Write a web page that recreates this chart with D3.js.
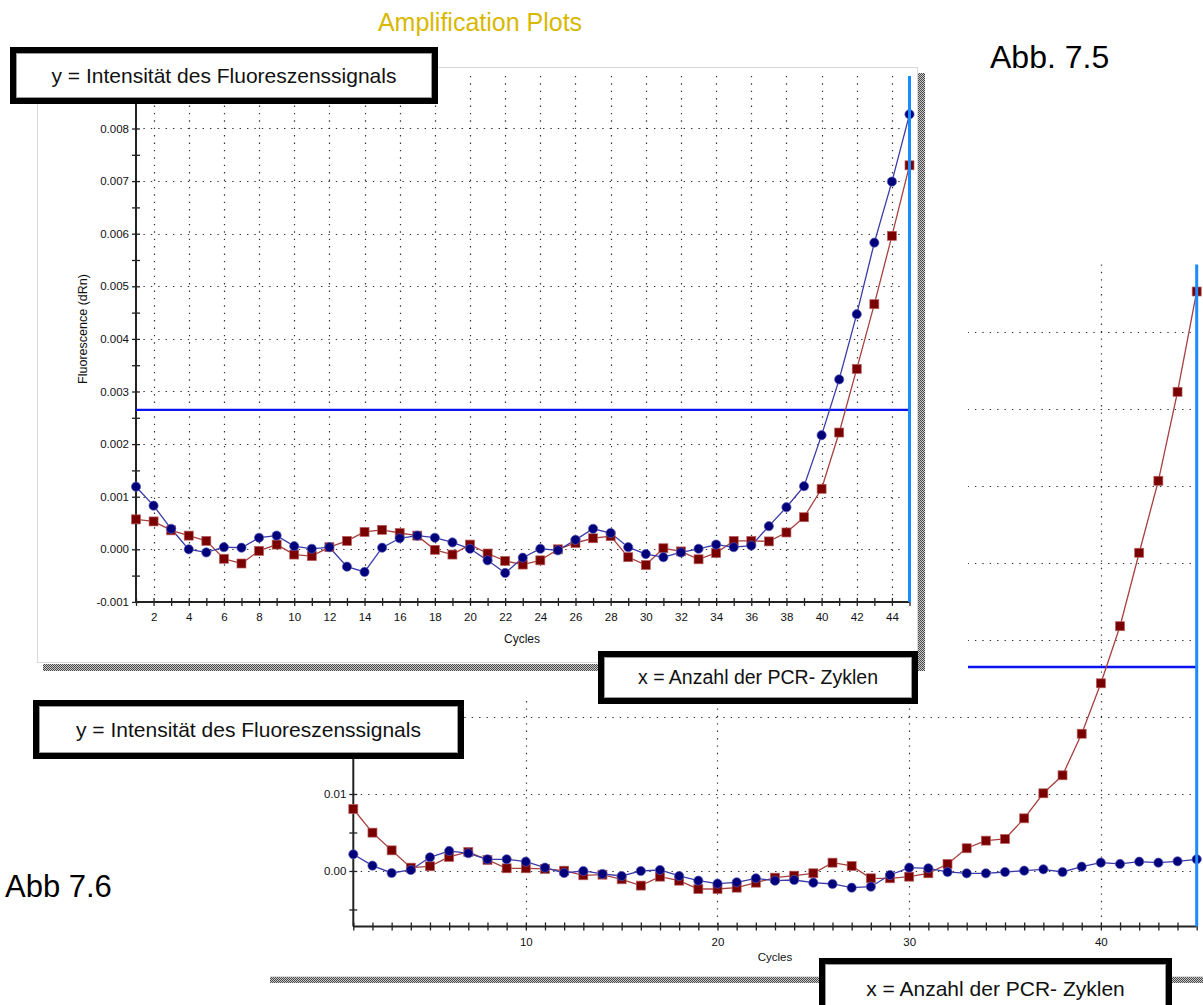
<!DOCTYPE html>
<html>
<head>
<meta charset="utf-8">
<script src="https://cdn.jsdelivr.net/npm/d3@7"></script>
<style>
  html, body { margin: 0; padding: 0; background: #fff; }
  svg { display: block; font-family: "Liberation Sans", Arial, sans-serif; }
</style>
</head>
<body>
<svg id="chart" width="1203" height="1005"></svg>
<script>
// ---- Abb. 7.5: amplification run, both samples cross the threshold ----
const cycles = d3.range(1, 46);
const topBlue = [0.00119, 0.00083, 0.00039, 0.00000, -0.00006, 0.00004, 0.00003, 0.00022, 0.00026, 0.00006,
                 0.00001, 0.00004, -0.00033, -0.00043, 0.00003, 0.00021, 0.00026, 0.00022, 0.00013, 0.00001,
                 -0.00021, -0.00045, -0.00016, 0.00001, -0.00002, 0.00018, 0.00039, 0.00031, 0.00004, -0.00009,
                 -0.00015, -0.00006, 0.00001, 0.00009, 0.00004, 0.00007, 0.00044, 0.00080, 0.00120, 0.00217,
                 0.00323, 0.00447, 0.00583, 0.00699, 0.00827];
const topRed = [0.00057, 0.00053, 0.00036, 0.00026, 0.00016, -0.00018, -0.00027, -0.00003, 0.00009, -0.00010,
                -0.00013, 0.00004, 0.00016, 0.00033, 0.00037, 0.00031, 0.00026, -0.00001, -0.00010, 0.00009,
                -0.00008, -0.00022, -0.00029, -0.00021, 0.00000, 0.00012, 0.00021, 0.00025, -0.00015, -0.00030,
                0.00002, -0.00004, -0.00019, -0.00007, 0.00016, 0.00016, 0.00015, 0.00032, 0.00061, 0.00115,
                0.00222, 0.00343, 0.00466, 0.00596, 0.00730];
const topThreshold = 0.00265;
const topYTicks = [-0.001, 0.000, 0.001, 0.002, 0.003, 0.004, 0.005, 0.006, 0.007, 0.008];
const topXLabels = d3.range(2, 45, 2);

// ---- Abb. 7.6: second run, only the red sample amplifies ----
const botBlue = [0.00217, 0.00069, -0.00026, 0.00013, 0.00178, 0.00260, 0.00230, 0.00152, 0.00152, 0.00121,
                 0.00043, -0.00026, 0.00000, -0.00039, -0.00065, 0.00000, 0.00013, -0.00065, -0.00126, -0.00165,
                 -0.00147, -0.00095, -0.00126, -0.00117, -0.00152, -0.00169, -0.00217, -0.00204, -0.00052, 0.00043,
                 0.00035, -0.00013, -0.00030, -0.00030, -0.00013, 0.00004, 0.00022, -0.00013, 0.00056, 0.00108,
                 0.00091, 0.00121, 0.00108, 0.00126, 0.00152];
const botRed = [0.00805, 0.00498, 0.00268, 0.00043, 0.00061, 0.00182, 0.00247, 0.00143, 0.00035, 0.00035,
                0.00026, 0.00004, -0.00056, -0.00048, -0.00108, -0.00190, -0.00074, -0.00126, -0.00234, -0.00234,
                -0.00217, -0.00152, -0.00087, -0.00061, -0.00030, 0.00108, 0.00065, -0.00095, -0.00095, -0.00074,
                -0.00030, 0.00091, 0.00295, 0.00394, 0.00416, 0.00684, 0.01009, 0.01243, 0.01783, 0.02438,
                0.03180, 0.04134, 0.05069, 0.06225, 0.07528];
const botThreshold = 0.02649;
const botYTicks = [0.00, 0.01, 0.02, 0.03, 0.04, 0.05, 0.06, 0.07];
const botYLabels = [0.00, 0.01];
const botXLabels = [10, 20, 30, 40];

const svg = d3.select("#chart");
const defs = svg.append("defs");

// checkered drop shadow used by both panels
const pat = defs.append("pattern").attr("id", "hatch")
  .attr("width", 2).attr("height", 2).attr("patternUnits", "userSpaceOnUse");
pat.append("rect").attr("width", 2).attr("height", 2).attr("fill", "#c8c8c8");
pat.append("rect").attr("width", 1).attr("height", 1).attr("fill", "#4a4a4a");
pat.append("rect").attr("x", 1).attr("y", 1).attr("width", 1).attr("height", 1).attr("fill", "#4a4a4a");

const BLUE_MARK = "#00007a", BLUE_LINE = "#3a3aa8";
const RED_MARK = "#7a0000", RED_LINE = "#a84040";
const GRID = "#333";

function drawPanel(g, opt) {
  const { x, y, xGridVals, yGridVals, blue, red, threshold, xTickVals, xFmt, yTickVals, yFmt,
          markR, sq, thrX0, fontSize } = opt;
  const [x0, x1] = x.range();
  const [yb, yt] = y.range();

  // dotted grid
  g.append("g").selectAll("line").data(yGridVals).join("line")
    .attr("x1", x0).attr("x2", x1 - 4)
    .attr("y1", d => Math.round(y(d)) + 0.5).attr("y2", d => Math.round(y(d)) + 0.5)
    .attr("stroke", GRID).attr("stroke-width", 1.2).attr("stroke-dasharray", "1.4,6");
  g.append("g").selectAll("line").data(xGridVals).join("line")
    .attr("x1", d => Math.round(x(d)) + 0.5).attr("x2", d => Math.round(x(d)) + 0.5)
    .attr("y1", yt).attr("y2", yb)
    .attr("stroke", GRID).attr("stroke-width", 1.2).attr("stroke-dasharray", "1.4,6");

  // axes: ticks cross the axis line on both sides
  const xAxis = d3.axisBottom(x).tickValues(xTickVals).tickSize(4).tickFormat(xFmt);
  const gx = g.append("g").attr("transform", `translate(0,${yb})`).call(xAxis);
  gx.selectAll(".tick line").attr("y1", -4).attr("y2", 4).attr("stroke", "#222").attr("stroke-width", 1.3);
  gx.selectAll(".tick text").attr("y", 11).attr("font-size", fontSize).attr("fill", "#111")
    .attr("font-family", "Liberation Sans, Arial, sans-serif");

  const yAxis = d3.axisLeft(y).tickValues(yTickVals).tickSize(4).tickFormat(yFmt);
  const gy = g.append("g").attr("transform", `translate(${x0},0)`).call(yAxis);
  gy.selectAll(".tick line").attr("x1", -4).attr("x2", 4).attr("stroke", "#222").attr("stroke-width", 1.3);
  gy.selectAll(".tick text").attr("x", -7).attr("font-size", fontSize).attr("fill", "#111")
    .attr("font-family", "Liberation Sans, Arial, sans-serif");
  gx.select(".domain").remove();
  gy.select(".domain").remove();
  g.append("line").attr("x1", x0).attr("x2", x1).attr("y1", yb).attr("y2", yb)
    .attr("stroke", "#222").attr("stroke-width", 2);
  g.append("line").attr("x1", x0).attr("x2", x0).attr("y1", yb).attr("y2", yt)
    .attr("stroke", "#222").attr("stroke-width", 2);

  // threshold line
  g.append("line").attr("x1", thrX0 != null ? thrX0 : x0).attr("x2", x1)
    .attr("y1", y(threshold)).attr("y2", y(threshold))
    .attr("stroke", "#0a14ee").attr("stroke-width", 2.4);

  // series
  const line = d3.line().x((d, i) => x(cycles[i])).y(d => y(d));
  g.append("path").datum(red).attr("d", line).attr("fill", "none")
    .attr("stroke", RED_LINE).attr("stroke-width", 1.3);
  g.append("path").datum(blue).attr("d", line).attr("fill", "none")
    .attr("stroke", BLUE_LINE).attr("stroke-width", 1.3);

  g.append("g").selectAll("rect").data(red).join("rect")
    .attr("x", (d, i) => x(cycles[i]) - sq / 2).attr("y", d => y(d) - sq / 2)
    .attr("width", sq).attr("height", sq)
    .attr("fill", RED_MARK).attr("stroke", "#b86060").attr("stroke-width", 0.7);
  g.append("g").selectAll("circle").data(blue).join("circle")
    .attr("cx", (d, i) => x(cycles[i])).attr("cy", d => y(d)).attr("r", markR)
    .attr("fill", BLUE_MARK).attr("stroke", "#5a5ab8").attr("stroke-width", 0.7);

  // end-of-run cursor
  g.append("line").attr("x1", x1).attr("x2", x1).attr("y1", yt).attr("y2", yb)
    .attr("stroke", "#1a8cff").attr("stroke-width", 3);
}

const near = (arr, d) => arr.some(v => Math.abs(v - d) < 1e-9);

// ---------- lower panel (Abb 7.6) ----------
const xBot = d3.scaleLinear().domain([1, 45]).range([353.3, 1196.7]);
const yBot = d3.scaleLinear().domain([-0.0072, 0.0788]).range([926.4, 264.4]);
const gBot = svg.append("g");
drawPanel(gBot, {
  x: xBot, y: yBot, xGridVals: botXLabels, yGridVals: botYTicks,
  blue: botBlue, red: botRed, threshold: botThreshold,
  xTickVals: cycles, xFmt: d => botXLabels.includes(d) ? d : "",
  yTickVals: d3.range(-0.005, 0.0751, 0.005).map(v => +v.toFixed(3)),
  yFmt: d => near(botYLabels, d) ? d.toFixed(2) : "",
  markR: 4.6, sq: 9, thrX0: 968, fontSize: 11.5
});
gBot.append("text").attr("x", 775).attr("y", 961).attr("text-anchor", "middle")
  .attr("font-size", 11.5).attr("fill", "#111").text("Cycles");
svg.append("rect").attr("x", 270).attr("y", 977).attr("width", 933).attr("height", 6)
  .attr("fill", "url(#hatch)");
svg.append("line").attr("x1", 270).attr("x2", 1203).attr("y1", 976.5).attr("y2", 976.5)
  .attr("stroke", "#ddd");

// ---------- upper panel (Abb. 7.5) sits over the lower one ----------
svg.append("rect").attr("x", 0).attr("y", 0).attr("width", 968).attr("height", 701).attr("fill", "#fff");
svg.append("rect").attr("x", 918).attr("y", 73).attr("width", 7).attr("height", 598).attr("fill", "url(#hatch)");
svg.append("rect").attr("x", 43).attr("y", 664).attr("width", 882).attr("height", 7).attr("fill", "url(#hatch)");
svg.append("rect").attr("x", 37.5).attr("y", 67.5).attr("width", 880).attr("height", 595)
  .attr("fill", "#fff").attr("stroke", "#d8d8d8").attr("stroke-width", 1);

const xTop = d3.scaleLinear().domain([1, 45]).range([136, 909.5]);
const yTop = d3.scaleLinear().domain([-0.001, 0.009]).range([601.9, 75.9]);
const gTop = svg.append("g");
drawPanel(gTop, {
  x: xTop, y: yTop, xGridVals: topXLabels, yGridVals: topYTicks.filter(v => v > -0.001),
  blue: topBlue, red: topRed, threshold: topThreshold,
  xTickVals: cycles, xFmt: d => d % 2 === 0 ? d : "",
  yTickVals: d3.range(-0.001, 0.00851, 0.0005).map(v => +v.toFixed(4)),
  yFmt: d => near(topYTicks, d) ? d.toFixed(3) : "",
  markR: 4.6, sq: 9, thrX0: null, fontSize: 11.5
});
gTop.append("text").attr("x", 522).attr("y", 643).attr("text-anchor", "middle")
  .attr("font-size", 12).attr("fill", "#111").text("Cycles");
gTop.append("text").attr("transform", "translate(87,329) rotate(-90)").attr("text-anchor", "middle")
  .attr("font-size", 12.5).attr("fill", "#111").text("Fluorescence (dRn)");

svg.append("text").attr("x", 480).attr("y", 31).attr("text-anchor", "middle")
  .attr("font-size", 25).attr("fill", "#d8b800").text("Amplification Plots");

// ---------- annotation boxes ----------
function box(x, y, w, h, label, fs) {
  const g = svg.append("g");
  g.append("rect").attr("x", x + 3).attr("y", y + 3).attr("width", w - 6).attr("height", h - 6)
    .attr("fill", "#fff").attr("stroke", "#000").attr("stroke-width", 6);
  g.append("rect").attr("x", x + 6.5).attr("y", y + 6.5).attr("width", w - 13).attr("height", h - 13)
    .attr("fill", "none").attr("stroke", "#9a9a9a").attr("stroke-width", 1);
  g.append("text").attr("x", x + w / 2).attr("y", y + h / 2).attr("dy", "0.35em")
    .attr("text-anchor", "middle").attr("font-size", fs).attr("fill", "#111").text(label);
}
box(10, 47, 428, 57, "y = Intensität des Fluoreszenssignals", 21);
box(598, 651, 320, 53, "x = Anzahl der PCR- Zyklen", 19.5);
box(33, 700, 431, 59, "y = Intensität des Fluoreszenssignals", 21);
box(819, 958, 353, 62, "x = Anzahl der PCR- Zyklen", 21);

svg.append("text").attr("x", 990).attr("y", 68).attr("font-size", 32).attr("fill", "#000").text("Abb. 7.5");
svg.append("text").attr("x", 5).attr("y", 897).attr("font-size", 31).attr("fill", "#000").text("Abb 7.6");
</script>
</body>
</html>
